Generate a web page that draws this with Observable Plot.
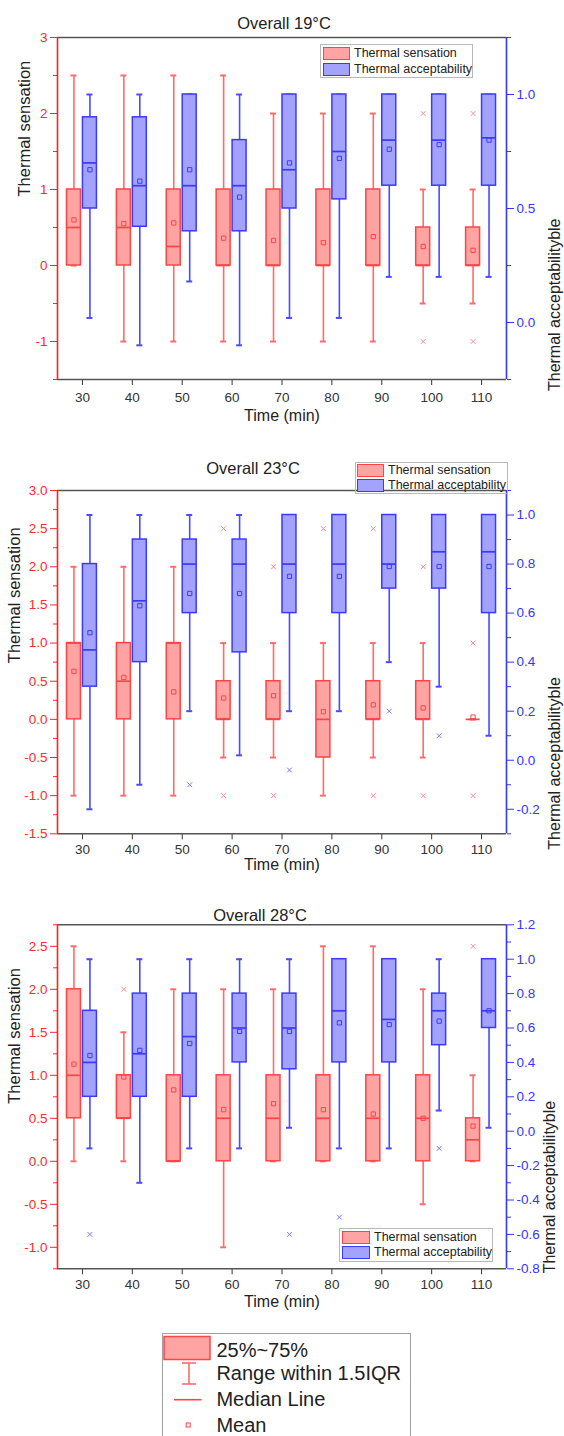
<!DOCTYPE html>
<html><head><meta charset="utf-8">
<script src="https://cdn.jsdelivr.net/npm/d3@7"></script>
<script src="https://cdn.jsdelivr.net/npm/@observablehq/plot@0.6"></script>
<style>
body{margin:0;background:#fff;font-family:"Liberation Sans",Arial,sans-serif;}
#page{position:relative;width:564px;height:1436px;overflow:hidden;background:#fff;}
.panel{position:absolute;left:0;}
.leg{position:absolute;border:1px solid #b8b8b8;font-size:12.5px;color:#222;}
.leg .sw{position:absolute;height:11px;box-sizing:border-box;}
.leg .tx{position:absolute;line-height:14px;white-space:nowrap;}
#biglegend{position:absolute;left:162px;top:1333px;width:247px;height:120px;border:1px solid #a0a0a0;}
</style></head>
<body><div id="page"></div>
<script>
// ---------- data ----------
const times = [30, 40, 50, 60, 70, 80, 90, 100, 110];
const seriesNames = ["Thermal sensation", "Thermal acceptability"];
const titles = ["Overall 19°C", "Overall 23°C", "Overall 28°C"];

// 19°C – thermal sensation (left axis)
const ts19Hi   = [2.5, 2.5, 2.5, 2.5, 2.0, 2.0, 2.0, 1.0, 1.0];
const ts19Q3   = [1, 1, 1, 1, 1, 1, 1, 0.5, 0.5];
const ts19Med  = [0.5, 0.5, 0.25, 0, 0, 0, 0, 0, 0];
const ts19Q1   = [0, 0, 0, 0, 0, 0, 0, 0, 0];
const ts19Lo   = [0, -1, -1, -1, -1, -1, -1, -0.5, -0.5];
const ts19Mean = [0.6, 0.55, 0.56, 0.36, 0.33, 0.3, 0.38, 0.25, 0.2];
const ts19Out  = [[100, 2], [100, -1], [110, 2], [110, -1]];
// 19°C – thermal acceptability (right axis)
const ta19Hi   = [1, 1, 1, 1, 1, 1, 1, 1, 1];
const ta19Q3   = [0.9, 0.9, 1, 0.8, 1, 1, 1, 1, 1];
const ta19Med  = [0.7, 0.6, 0.6, 0.6, 0.67, 0.75, 0.8, 0.8, 0.81];
const ta19Q1   = [0.5, 0.42, 0.4, 0.4, 0.5, 0.54, 0.6, 0.6, 0.6];
const ta19Lo   = [0.02, -0.1, 0.18, -0.1, 0.02, 0.02, 0.2, 0.2, 0.2];
const ta19Mean = [0.67, 0.62, 0.67, 0.55, 0.7, 0.72, 0.76, 0.78, 0.8];
const ta19Out  = [];

// 23°C
const ts23Hi   = [2, 2, 2, 1, 1, 1, 1, 1, 0];
const ts23Q3   = [1, 1, 1, 0.5, 0.5, 0.5, 0.5, 0.5, 0];
const ts23Med  = [1, 0.5, 1, 0, 0, 0, 0, 0, 0];
const ts23Q1   = [0, 0, 0, 0, 0, -0.5, 0, 0, 0];
const ts23Lo   = [-1, -1, -1, -0.5, -0.5, -1, -0.5, -0.5, 0];
const ts23Mean = [0.63, 0.55, 0.36, 0.28, 0.31, 0.1, 0.19, 0.15, 0.03];
const ts23Out  = [[60, 2.5], [60, -1], [70, 2], [70, -1], [80, 2.5], [90, 2.5], [90, -1], [100, 2], [100, -1], [110, 1], [110, -1]];
const ta23Hi   = [1, 1, 1, 1, 1, 1, 1, 1, 1];
const ta23Q3   = [0.8, 0.9, 0.9, 0.9, 1, 1, 1, 1, 1];
const ta23Med  = [0.45, 0.65, 0.8, 0.8, 0.8, 0.8, 0.8, 0.85, 0.85];
const ta23Q1   = [0.3, 0.4, 0.6, 0.44, 0.6, 0.6, 0.7, 0.7, 0.6];
const ta23Lo   = [-0.2, -0.1, 0.2, 0.02, 0.2, 0.2, 0.4, 0.3, 0.1];
const ta23Mean = [0.52, 0.63, 0.68, 0.68, 0.75, 0.75, 0.79, 0.79, 0.79];
const ta23Out  = [[50, -0.1], [70, -0.04], [90, 0.2], [100, 0.1]];

// 28°C
const ts28Hi   = [2.5, 1.5, 2, 2, 2, 2.5, 2.5, 2, 1];
const ts28Q3   = [2, 1, 1, 1, 1, 1, 1, 1, 0.5];
const ts28Med  = [1, 0.5, 0, 0.5, 0.5, 0.5, 0.5, 0.5, 0.25];
const ts28Q1   = [0.5, 0.5, 0, 0, 0, 0, 0, 0, 0];
const ts28Lo   = [0, 0, 0, -1, 0, 0, 0, -0.5, 0];
const ts28Mean = [1.13, 0.98, 0.83, 0.6, 0.67, 0.6, 0.55, 0.5, 0.41];
const ts28Out  = [[40, 2], [110, 2.5]];
const ta28Hi   = [1, 1, 1, 1, 1, 1, 1, 1, 1];
const ta28Q3   = [0.7, 0.8, 0.8, 0.8, 0.8, 1, 1, 0.8, 1];
const ta28Med  = [0.4, 0.45, 0.55, 0.6, 0.6, 0.7, 0.65, 0.7, 0.7];
const ta28Q1   = [0.2, 0.2, 0.2, 0.4, 0.36, 0.4, 0.4, 0.5, 0.6];
const ta28Lo   = [-0.1, -0.3, -0.1, -0.1, 0.02, -0.1, -0.1, 0.12, 0.02];
const ta28Mean = [0.44, 0.47, 0.51, 0.58, 0.58, 0.63, 0.62, 0.64, 0.7];
const ta28Out  = [[30, -0.6], [70, -0.6], [80, -0.5], [100, -0.1]];

// axis ticks
const xTicks = [30, 40, 50, 60, 70, 80, 90, 100, 110];
const l19Ticks = [-1, 0, 1, 2, 3];
const l19Minor = [-1.5, -0.5, 0.5, 1.5, 2.5];
const r19Ticks = [0, 0.5, 1.0];
const r19Minor = [-0.25, 0.25, 0.75, 1.25];
const l23Ticks = [-1.5, -1, -0.5, 0, 0.5, 1, 1.5, 2, 2.5, 3];
const l23Minor = [-1.25, -0.75, -0.25, 0.25, 0.75, 1.25, 1.75, 2.25, 2.75];
const r23Ticks = [-0.2, 0, 0.2, 0.4, 0.6, 0.8, 1.0];
const r23Minor = [-0.3, -0.1, 0.1, 0.3, 0.5, 0.7, 0.9, 1.1];
const l28Ticks = [-1, -0.5, 0, 0.5, 1, 1.5, 2, 2.5];
const l28Minor = [-1.25, -0.75, -0.25, 0.25, 0.75, 1.25, 1.75, 2.25, 2.75];
const r28Ticks = [-0.8, -0.6, -0.4, -0.2, 0, 0.2, 0.4, 0.6, 0.8, 1.0, 1.2];
const r28Minor = [-0.7, -0.5, -0.3, -0.1, 0.1, 0.3, 0.5, 0.7, 0.9, 1.1];

// ---------- styles ----------
const RED = {fill: "#ffa3a3", stroke: "#ff4444", whisk: "#ff6b6b", out: "#ff8a8a"};
const BLUE = {fill: "#a3a3ff", stroke: "#3a3aff", whisk: "#4a4aff", out: "#7a7aff"};
const FONT = '"Liberation Sans", Arial, sans-serif';

function rows(hi, q3, med, q1, lo, mean, f) {
  return times.map((t, i) => ({t, hi: f(hi[i]), q3: f(q3[i]), med: f(med[i]), q1: f(q1[i]), lo: f(lo[i]), mean: f(mean[i])}));
}
function fmt1(v) { const r = Math.round(v * 100) / 100; return (Math.abs(r) < 1e-9 ? 0 : r).toFixed(1); }
function fmtInt(v) { return String(Math.round(v)); }

function boxMarks(data, outs, x1o, x2o, col) {
  const c = d => d.t + (x1o + x2o) / 2;
  const cap = 0.6;
  return [
    Plot.ruleX(data, {x: c, y1: "q3", y2: "hi", stroke: col.whisk, strokeWidth: 1.6}),
    Plot.ruleX(data, {x: c, y1: "lo", y2: "q1", stroke: col.whisk, strokeWidth: 1.6}),
    Plot.ruleY(data, {y: "hi", x1: d => c(d) - cap, x2: d => c(d) + cap, stroke: col.whisk, strokeWidth: 2}),
    Plot.ruleY(data, {y: "lo", x1: d => c(d) - cap, x2: d => c(d) + cap, stroke: col.whisk, strokeWidth: 2}),
    Plot.rect(data, {x1: d => d.t + x1o, x2: d => d.t + x2o, y1: "q1", y2: "q3", fill: col.fill, stroke: col.stroke, strokeWidth: 1.5}),
    Plot.ruleY(data, {y: "med", x1: d => d.t + x1o, x2: d => d.t + x2o, stroke: col.stroke, strokeWidth: 1.7}),
    Plot.dot(data, {x: c, y: "mean", symbol: "square", r: 2.4, stroke: col.stroke, strokeWidth: 1, fill: "none"}),
    Plot.dot(outs, {x: c, y: "v", symbol: "times", r: 2.3, stroke: col.out, strokeWidth: 1})
  ];
}

function panel(cfg) {
  const conv = d3.scaleLinear().domain(cfg.rDomain).range(cfg.lDomain);
  const id = v => v;
  const red = rows(...cfg.ts, id);
  const blue = rows(...cfg.ta, conv);
  const redOut = cfg.tsOut.map(([t, v]) => ({t, v}));
  const blueOut = cfg.taOut.map(([t, v]) => ({t, v: conv(v)}));
  const xDom = [25, 115];
  return Plot.plot({
    width: 564, height: cfg.height,
    marginLeft: 57, marginRight: 58, marginTop: cfg.mt, marginBottom: cfg.mb,
    style: {fontFamily: FONT, fontSize: "13.5px", background: "transparent", overflow: "visible"},
    x: {domain: xDom},
    y: {domain: cfg.lDomain},
    marks: [
      ...boxMarks(red, redOut, -3.1, -0.3, RED),
      ...boxMarks(blue, blueOut, 0.1, 2.9, BLUE),
      Plot.axisX(xTicks, {anchor: "bottom", tickSize: 6, tickPadding: cfg.xpad, tickFormat: d => String(d), color: "#333", fontSize: 13.5, label: null}),
      Plot.axisY(cfg.lTicks, {anchor: "left", tickSize: 7, tickPadding: 3, tickFormat: cfg.lFmt, color: "#ff2a2a", fontSize: 13.5, label: null}),
      Plot.axisY(cfg.lMinor, {anchor: "left", tickSize: 4, tickFormat: () => "", color: "#ff2a2a", label: null}),
      Plot.axisY(cfg.rTicks.map(conv), {anchor: "right", tickSize: 7, tickPadding: 3, tickFormat: d => cfg.rFmt(conv.invert(d)), color: "#3535ff", fontSize: 13.5, label: null}),
      Plot.axisY(cfg.rMinor.map(conv), {anchor: "right", tickSize: 4, tickFormat: () => "", color: "#3535ff", label: null}),
      Plot.ruleY([cfg.lDomain[1]], {stroke: "#555", strokeWidth: 1.5}),
      Plot.ruleY([cfg.lDomain[0]], {stroke: "#555", strokeWidth: 1.5}),
      Plot.ruleX([xDom[0]], {stroke: "#ff2020", strokeWidth: 1.6}),
      Plot.ruleX([xDom[1]], {stroke: "#3535ff", strokeWidth: 1.6}),
      Plot.text([cfg.title], {text: d => d, frameAnchor: "top", dx: cfg.tdx, dy: cfg.tdy, fontSize: 16.5, fill: "#222"}),
      Plot.text(["Time (min)"], {text: d => d, frameAnchor: "bottom", dy: cfg.xdy, fontSize: 16, fill: "#222"}),
      Plot.text(["Thermal sensation"], {text: d => d, frameAnchor: "left", dx: cfg.ldx, dy: cfg.ldy, rotate: -90, fontSize: 16.5, fill: "#222"}),
      Plot.text(["Thermal acceptabilityble"], {text: d => d, frameAnchor: "right", dx: cfg.rdx, dy: cfg.rdy, rotate: -90, fontSize: 16, fill: "#222"})
    ]
  });
}

const configs = [
  {top: 0, height: 440, mt: 37, mb: 61, lDomain: [-1.5, 3], rDomain: [-0.25, 1.25],
   ts: [ts19Hi, ts19Q3, ts19Med, ts19Q1, ts19Lo, ts19Mean], ta: [ta19Hi, ta19Q3, ta19Med, ta19Q1, ta19Lo, ta19Mean],
   tsOut: ts19Out, taOut: ta19Out, lTicks: l19Ticks, lMinor: l19Minor, rTicks: r19Ticks, rMinor: r19Minor,
   lFmt: fmtInt, rFmt: fmt1, title: titles[0], tdx: 2, tdy: -20, xdy: 41, xpad: 7, ldx: -33, ldy: -12, rdx: 48, rdy: 10,
   legend: {left: 320, top: 44, w: 151, h: 32, sx: 1.5, sw: 27, r1: 8, r2: 24, tx: 33}},
  {top: 440, height: 440, mt: 50, mb: 46.7, lDomain: [-1.5, 3], rDomain: [-0.3, 1.1],
   ts: [ts23Hi, ts23Q3, ts23Med, ts23Q1, ts23Lo, ts23Mean], ta: [ta23Hi, ta23Q3, ta23Med, ta23Q1, ta23Lo, ta23Mean],
   tsOut: ts23Out, taOut: ta23Out, lTicks: l23Ticks, lMinor: l23Minor, rTicks: r23Ticks, rMinor: r23Minor,
   lFmt: fmt1, rFmt: fmt1, title: titles[1], tdx: -29, tdy: -28.5, xdy: 36, xpad: 5, ldx: -43, ldy: 1, rdx: 48, rdy: 15,
   legend: {left: 355, top: 461.5, w: 151, h: 30, sx: 1, sw: 27, r1: 8.3, r2: 22.6, tx: 32}},
  {top: 880, height: 450, mt: 44.3, mb: 61.7, lDomain: [-1.25, 2.75], rDomain: [-0.8, 1.2],
   ts: [ts28Hi, ts28Q3, ts28Med, ts28Q1, ts28Lo, ts28Mean], ta: [ta28Hi, ta28Q3, ta28Med, ta28Q1, ta28Lo, ta28Mean],
   tsOut: ts28Out, taOut: ta28Out, lTicks: l28Ticks, lMinor: l28Minor, rTicks: r28Ticks, rMinor: r28Minor,
   lFmt: fmt1, rFmt: fmt1, title: titles[2], tdx: -22, tdy: -15.5, xdy: 38, xpad: 5, ldx: -43, ldy: 7, rdx: 43, rdy: 4,
   legend: {left: 339, top: 1228, w: 152, h: 31.5, sx: 1.5, sw: 28, r1: 8.4, r2: 23.4, tx: 34}}
];

const page = document.getElementById("page");
for (const cfg of configs) {
  const div = document.createElement("div");
  div.className = "panel";
  div.style.top = cfg.top + "px";
  div.appendChild(panel(cfg));
  page.appendChild(div);
  // series legend
  const L = cfg.legend;
  const lg = document.createElement("div");
  lg.className = "leg";
  Object.assign(lg.style, {left: L.left + "px", top: L.top + "px", width: L.w + "px", height: L.h + "px"});
  [[seriesNames[0], RED, L.r1], [seriesNames[1], BLUE, L.r2]].forEach(([name, col, cy]) => {
    const sw = document.createElement("div");
    sw.className = "sw";
    Object.assign(sw.style, {left: L.sx + "px", top: (cy - 6.5) + "px", width: L.sw + "px", height: "13px", background: col.fill, border: "1.5px solid " + col.stroke});
    const tx = document.createElement("div");
    tx.className = "tx";
    tx.textContent = name;
    Object.assign(tx.style, {left: L.tx + "px", top: (cy - 7.5) + "px"});
    lg.appendChild(sw); lg.appendChild(tx);
  });
  page.appendChild(lg);
}

// bottom legend (key to box elements)
const big = document.createElement("div");
big.id = "biglegend";
big.innerHTML = `<svg width="247" height="120" style="position:absolute;left:0;top:0;font-family:${FONT.replace(/"/g, "'")}">
  <rect x="1" y="2.5" width="46" height="23" fill="${RED.fill}" stroke="${RED.stroke}" stroke-width="1.5"/>
  <line x1="26" x2="26" y1="29" y2="50" stroke="${RED.whisk}" stroke-width="1.6"/>
  <line x1="19" x2="33" y1="29" y2="29" stroke="${RED.whisk}" stroke-width="1.6"/>
  <line x1="19" x2="33" y1="50" y2="50" stroke="${RED.whisk}" stroke-width="1.6"/>
  <line x1="11" x2="38.5" y1="65.7" y2="65.7" stroke="${RED.stroke}" stroke-width="1.6"/>
  <rect x="23.2" y="89" width="4" height="4" fill="none" stroke="${RED.stroke}" stroke-width="1"/>
  <g font-size="20" fill="#222" dominant-baseline="central">
    <text x="53.4" y="15.5">25%~75%</text>
    <text x="53.4" y="39.4">Range within 1.5IQR</text>
    <text x="53.4" y="65">Median Line</text>
    <text x="53.4" y="91">Mean</text>
  </g></svg>`;
page.appendChild(big);
</script>
</body></html>
